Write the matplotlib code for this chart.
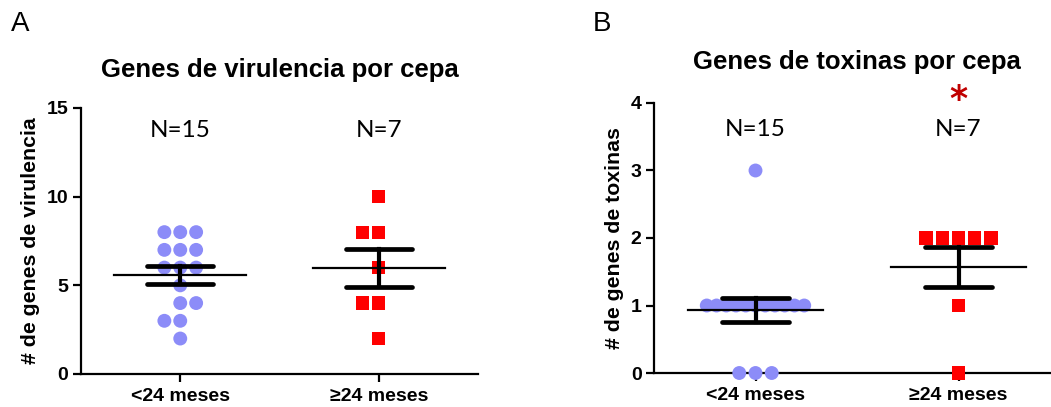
import numpy as np
import matplotlib
matplotlib.use("Agg")
import matplotlib.pyplot as plt

# ---------------- data ----------------
groups = ["<24 meses", "\u226524 meses"]
vir_lt24 = [8, 8, 8, 7, 7, 7, 6, 6, 6, 5, 4, 4, 3, 3, 2]
vir_ge24 = [10, 8, 8, 6, 4, 4, 2]
tox_lt24 = [3, 1, 1, 1, 1, 1, 1, 1, 1, 1, 1, 1, 0, 0, 0]
tox_ge24 = [2, 2, 2, 2, 2, 1, 0]
n_labels = ["N=15", "N=7"]
vir_yticks = [0, 5, 10, 15]
tox_yticks = [0, 1, 2, 3, 4]

BLUE = "#8C8CF8"
RED = "#FF0000"
DPI = 100
fig = plt.figure(figsize=(10.51, 4.07), dpi=DPI)
W, H = 1051, 407


def ax_rect(l, r, t, b):
    return [l / W, (H - b) / H, (r - l) / W, (b - t) / H]


def offsets(values, step, max_width, first_even_right=True, alternate=True):
    vals = np.asarray(values, dtype=float)
    off = np.zeros(len(vals))
    flip = first_even_right
    for v in sorted(set(vals), reverse=True):
        idx = np.where(vals == v)[0]
        k = len(idx)
        s = step if (k - 1) * step <= max_width else max_width / (k - 1)
        if k % 2 == 1:
            pos = (np.arange(k) - (k - 1) / 2) * s
        else:
            pos = (np.arange(k) - k / 2 + (1 if flip else 0)) * s
            if alternate:
                flip = not flip
        off[idx] = pos
    return off


def panel(ax, data_sets, markers, colors, yticks, ylabel, nlab_y, flips, alts):
    for i, (vals, mk, col, fl, alt) in enumerate(zip(data_sets, markers, colors, flips, alts)):
        x = i + offsets(vals, 0.08, 0.48, fl, alt)
        ax.scatter(x, vals, marker=mk, s=100 if mk == "o" else 90, color=col,
                   edgecolors="none", zorder=3, clip_on=False)
        m = np.mean(vals)
        sem = np.std(vals, ddof=1) / np.sqrt(len(vals))
        ax.plot([i - 0.333, i + 0.333], [m, m], color="black", lw=1.6, zorder=4)
        for yy in (m - sem, m + sem):
            ax.plot([i - 0.167, i + 0.167], [yy, yy], color="black", lw=3.4,
                    solid_capstyle="round", zorder=4)
        ax.plot([i, i], [m - sem, m + sem], color="black", lw=3.0, zorder=4)
        ax.text(i, nlab_y, n_labels[i], ha="center", va="center",
                fontsize=17.5, family="Lato")
    ax.set_xlim(-0.5, 1.5)
    ax.set_ylim(yticks[0], yticks[-1])
    ax.set_yticks(yticks)
    ax.set_xticks([0, 1])
    ax.set_xticklabels(groups)
    for sp in ("top", "right"):
        ax.spines[sp].set_visible(False)
    for sp in ("left", "bottom"):
        ax.spines[sp].set_linewidth(1.6)
    ax.tick_params(axis="both", width=1.6, length=6, direction="out",
                   labelsize=14, pad=3)
    ax.tick_params(axis="x", pad=4)
    for lab in ax.get_xticklabels() + ax.get_yticklabels():
        lab.set_fontweight("bold")
        lab.set_family("Liberation Sans")
    ax.set_ylabel(ylabel, fontsize=15.3, fontweight="bold", family="Liberation Sans",
                  labelpad=5)


axA = fig.add_axes(ax_rect(81, 478, 108, 374))
panel(axA, [vir_lt24, vir_ge24], ["o", "s"], [BLUE, RED], vir_yticks,
      "# de genes de virulencia", 13.75, [True, False], [True, False])
axB = fig.add_axes(ax_rect(654, 1060, 103, 373))
panel(axB, [tox_lt24, tox_ge24], ["o", "s"], [BLUE, RED], tox_yticks,
      "# de genes de toxinas", 3.6, [True, False], [True, False])

axB.text(1, 4.05, "*", ha="center", va="center", fontsize=25, color="#C00000",
         family="DejaVu Sans", fontweight="bold", clip_on=False)

fig.text(280 / W, 1 - 70 / H, "Genes de virulencia por cepa", ha="center",
         va="center", fontsize=18.5, fontweight="bold", family="Liberation Sans")
fig.text(857 / W, 1 - 62 / H, "Genes de toxinas por cepa", ha="center",
         va="center", fontsize=18.5, fontweight="bold", family="Liberation Sans")
fig.text(11 / W, 1 - 24 / H, "A", ha="left", va="center", fontsize=20,
         family="Liberation Sans")
fig.text(593 / W, 1 - 24 / H, "B", ha="left", va="center", fontsize=20,
         family="Liberation Sans")

fig.savefig("out.png", dpi=DPI)
